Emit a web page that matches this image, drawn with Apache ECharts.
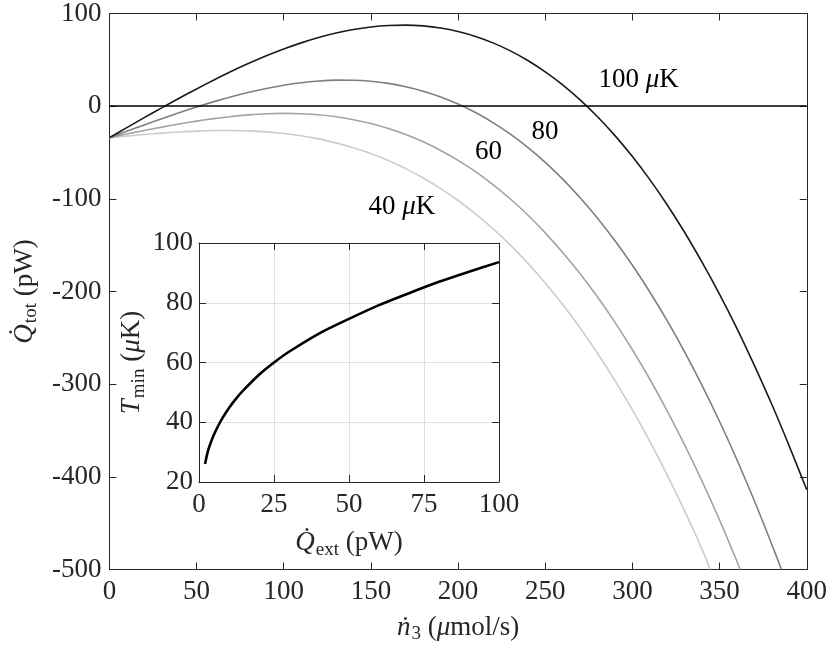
<!DOCTYPE html>
<html>
<head>
<meta charset="utf-8">
<script src="https://cdn.jsdelivr.net/npm/echarts/dist/echarts.min.js"></script>
<style>
  html, body { margin: 0; padding: 0; background: #fff; }
  #chart { width: 830px; height: 649px; }
</style>
</head>
<body>
<div id="chart"></div>
<script>
// main plot: total heat load vs 3He flow, one curve per temperature
const n3 = [0, 10, 20, 30, 40, 50, 60, 70, 80, 90, 100, 110, 120, 130, 140, 150, 160, 170, 180, 190,
    200, 210, 220, 230, 240, 250, 260, 270, 280, 290, 300, 310, 320, 330, 340, 350, 360, 370, 380, 390, 400];
const q100 = [-34, -23.2, -12.4, -1.8, 8.6, 18.6, 28.3, 37.6, 46.2, 54.3, 61.7, 68.3, 74.1, 78.9, 82.8, 85.5,
    87.1, 87.5, 86.6, 84.3, 80.5, 75.2, 68.3, 59.7, 49.3, 37.1, 23.0, 6.8, -11.4, -31.8, -54.4, -79.3,
    -106.6, -136.3, -168.6, -203, -240, -280, -322, -367, -414];
const q80 = [-34, -27.1, -20.2, -13.5, -7.1, -0.9, 4.9, 10.2, 15.0, 19.1, 22.6, 25.3, 27.1, 28.1, 28.0, 26.9,
    24.6, 21.0, 16.2, 10.0, 2.3, -6.9, -17.7, -30.2, -44.5, -60.7, -78.7, -98.8, -120.9, -145.2, -171.7,
    -200.5, -231.7, -265.3, -301.5, -340.3, -381.8, -426.1, -473.2];
const q60 = [-34, -30.1, -26.3, -22.6, -19.2, -16.1, -13.4, -11.1, -9.4, -8.2, -7.8, -8.2, -9.3, -11.4, -14.6,
    -18.7, -24.1, -30.6, -38.5, -47.8, -58.5, -70.7, -84.6, -100.2, -117.5, -136.7, -157.8, -180.8, -206.0,
    -233.3, -262.9, -294.7, -329.0, -365.7, -404.9, -446.7, -491.3];
const q40 = [-34, -32.3, -30.6, -29.1, -27.9, -26.9, -26.3, -26.2, -26.7, -27.7, -29.5, -31.9, -35.3, -39.6,
    -44.9, -51.2, -58.7, -67.4, -77.5, -88.9, -101.8, -116.2, -132.2, -149.9, -169.4, -190.8, -214.0, -239.3,
    -266.6, -296.1, -327.8, -361.8, -398.2, -437.1, -478.5];
// where each curve leaves the bottom of the plot
const end80 = [385.5, -500];
const end60 = [361.8, -500];
const end40 = [344.6, -500];

// inset: minimum temperature vs external heat load
const qExt = [2, 3, 4, 5, 6.5, 8, 10, 12.5, 15, 20, 25, 30, 40, 50, 60, 70, 80, 90, 100];
const tMin = [26, 30.4, 33.4, 35.9, 39.0, 41.7, 44.8, 48.1, 50.9, 55.9, 60, 63.6, 69.7, 74.6, 79.2, 83.2, 87.0, 90.4, 93.6];

const mainXTicks = { min: 0, max: 400, interval: 50 };
const mainYTicks = { min: -500, max: 100, interval: 100 };
const insetXTicks = { min: 0, max: 100, interval: 25 };
const insetYTicks = { min: 20, max: 100, interval: 20 };

const FONT = "'Liberation Serif', 'DejaVu Serif', serif";
const AX = '#262626';
const FS = 27;

function pairs(xs, ys, end) {
    const out = ys.map((y, i) => [xs[i], y]);
    if (end) out.push(end);
    return out;
}

const rich = {
    n: { fontFamily: FONT, fontSize: FS, color: AX, lineHeight: 30 },
    i: { fontFamily: FONT, fontSize: FS, color: AX, fontStyle: 'italic', lineHeight: 30 },
    s: { fontFamily: FONT, fontSize: 19, color: AX, lineHeight: 20, padding: [14, 0, 0, 1] }
};
const nameStyle = { fontFamily: FONT, fontSize: FS, color: AX, rich: rich };

function axis(kind, gridIndex, pos, ticks, opts) {
    opts = opts || {};
    return Object.assign({
        type: 'value',
        gridIndex: gridIndex,
        position: pos,
        min: ticks.min,
        max: ticks.max,
        interval: ticks.interval,
        axisLine: { show: true, onZero: false, lineStyle: { color: AX, width: 1 } },
        axisTick: { show: true, inside: true, length: 7, lineStyle: { color: AX, width: 1 } },
        axisLabel: opts.labels === false ? { show: false } : {
            show: true, fontFamily: FONT, fontSize: FS, color: AX,
            margin: kind === 'x' ? 9 : (gridIndex === 0 ? 8 : 6)
        },
        splitLine: { show: !!opts.grid, lineStyle: { color: '#dfdfdf', width: 1 } }
    }, opts.extra || {});
}

const chart = echarts.init(document.getElementById('chart'), null, { renderer: 'canvas' });

const option = {
    backgroundColor: '#fff',
    animation: false,
    grid: [
        { left: 106, right: 23, top: 9, bottom: 77 },
        { left: 199, top: 243, width: 300, height: 239, show: true,
          backgroundColor: '#fff', borderWidth: 0, z: 5 }
    ],
    xAxis: [
        axis('x', 0, 'bottom', mainXTicks, { extra: {
            name: '{i|ṅ}{s|3} ({i|μ}mol/s)', nameLocation: 'middle', nameGap: 43,
            nameTextStyle: nameStyle } }),
        axis('x', 0, 'top', mainXTicks, { labels: false }),
        axis('x', 1, 'bottom', insetXTicks, { grid: true, extra: {
            z: 6,
            name: '{i|Q̇}{s|ext} (pW)', nameLocation: 'middle', nameGap: 46,
            nameTextStyle: nameStyle } }),
        axis('x', 1, 'top', insetXTicks, { labels: false, extra: { z: 6 } })
    ],
    yAxis: [
        axis('y', 0, 'left', mainYTicks, { extra: {
            name: '{i|Q̇}{s|tot} (pW)', nameLocation: 'middle', nameGap: 66, nameRotate: 90,
            nameTextStyle: nameStyle } }),
        axis('y', 0, 'right', mainYTicks, { labels: false }),
        axis('y', 1, 'left', insetYTicks, { grid: true, extra: {
            z: 6,
            name: '{i|T}{s|min} ({i|μ}K)', nameLocation: 'middle', nameGap: 40, nameRotate: 90,
            nameTextStyle: nameStyle } }),
        axis('y', 1, 'right', insetYTicks, { labels: false, extra: { z: 6 } })
    ],
    series: [
        {
            name: '40', type: 'line', xAxisIndex: 0, yAxisIndex: 0,
            data: pairs(n3, q40, end40), smooth: 0.3, showSymbol: false,
            lineStyle: { color: '#cdcdcd', width: 1.6 }
        },
        {
            name: '60', type: 'line', xAxisIndex: 0, yAxisIndex: 0,
            data: pairs(n3, q60, end60), smooth: 0.3, showSymbol: false,
            lineStyle: { color: '#a3a3a3', width: 1.6 }
        },
        {
            name: '80', type: 'line', xAxisIndex: 0, yAxisIndex: 0,
            data: pairs(n3, q80, end80), smooth: 0.3, showSymbol: false,
            lineStyle: { color: '#7f7f7f', width: 1.6 }
        },
        {
            name: '100', type: 'line', xAxisIndex: 0, yAxisIndex: 0,
            data: pairs(n3, q100), smooth: 0.3, showSymbol: false,
            lineStyle: { color: '#1a1a1a', width: 1.6 },
            markLine: {
                silent: true, symbol: 'none', label: { show: false },
                lineStyle: { color: '#000', width: 1.6, type: 'solid' },
                data: [{ yAxis: 0 }]
            },
            markPoint: {
                silent: true, symbol: 'circle', symbolSize: 0,
                label: { show: true, position: 'inside', color: '#000', rich: {
                    n: { fontFamily: FONT, fontSize: FS, color: '#000' },
                    i: { fontFamily: FONT, fontSize: FS, color: '#000', fontStyle: 'italic' }
                } },
                data: [
                    { coord: [303.6, 28], label: { formatter: '{n|100 }{i|μ}{n|K}' } },
                    { coord: [249.9, -27.5], label: { formatter: '{n|80}' } },
                    { coord: [217.4, -49], label: { formatter: '{n|60}' } },
                    { coord: [167.8, -109], label: { formatter: '{n|40 }{i|μ}{n|K}' } }
                ]
            }
        },
        {
            name: 'Tmin', type: 'line', xAxisIndex: 2, yAxisIndex: 2, z: 7,
            data: pairs(qExt, tMin), smooth: 0.3, showSymbol: false,
            lineStyle: { color: '#000', width: 2.6 }
        }
    ]
};

chart.setOption(option);
</script>
</body>
</html>
